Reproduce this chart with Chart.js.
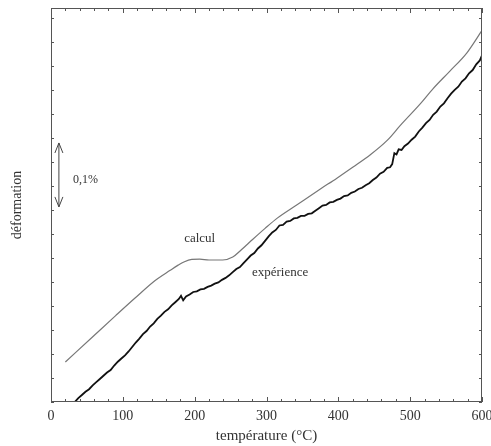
<!DOCTYPE html>
<html>
<head>
<meta charset="utf-8">
<script src="https://cdn.jsdelivr.net/npm/chart.js@4"></script>
<style>
  html, body { margin: 0; padding: 0; background: #fff; }
  #wrap { width: 491px; height: 446px; }
</style>
</head>
<body>
<div id="wrap"><canvas id="myChart" width="491" height="446"></canvas></div>
<script>
// calcul (computed curve)
const calculT = [20, 60, 90, 117, 145, 166, 177, 185, 196, 207, 220, 239, 253, 265, 281, 298, 315, 342, 375, 398, 420, 445, 468, 486, 514, 532, 555, 579, 600];
const calculDef = [0.0625, 0.104, 0.135, 0.1625, 0.190, 0.206, 0.214, 0.219, 0.223, 0.2234, 0.222, 0.222, 0.2266, 0.238, 0.2545, 0.2715, 0.2875, 0.308, 0.333, 0.350, 0.367, 0.387, 0.409, 0.432, 0.466, 0.490, 0.517, 0.546, 0.581];

// expérience (measured, noisy)
const experT = [33, 38, 43, 48, 53, 58, 63, 68, 73, 78, 83, 88, 93, 98, 103, 108, 113, 118, 123, 128,
  133, 138, 143, 148, 153, 158, 163, 168, 173, 178, 181, 184, 188, 193, 198, 203, 208, 213, 218, 223,
  228, 233, 238, 243, 248, 253, 258, 263, 268, 273, 278, 283, 288, 293, 298, 303, 308, 313, 318, 323,
  328, 333, 338, 343, 348, 353, 358, 363, 368, 373, 378, 383, 388, 393, 398, 403, 408, 413, 418, 423,
  428, 433, 438, 443, 448, 453, 458, 463, 468, 472, 475, 478, 481, 484, 488, 492, 497, 502, 507, 512,
  517, 522, 527, 532, 537, 542, 547, 552, 557, 562, 567, 572, 577, 582, 587, 592, 597, 600];
const experDef = [0.000, 0.006, 0.011, 0.016, 0.020, 0.026, 0.031, 0.036, 0.041, 0.046, 0.050, 0.057, 0.063, 0.068, 0.073, 0.079, 0.086, 0.093, 0.099, 0.106,
  0.111, 0.118, 0.123, 0.130, 0.135, 0.141, 0.145, 0.151, 0.156, 0.161, 0.166, 0.159, 0.165, 0.168, 0.172, 0.173, 0.176, 0.177, 0.180, 0.182,
  0.185, 0.187, 0.191, 0.194, 0.198, 0.203, 0.208, 0.211, 0.217, 0.223, 0.229, 0.233, 0.240, 0.245, 0.252, 0.259, 0.265, 0.269, 0.276, 0.277,
  0.282, 0.283, 0.287, 0.288, 0.291, 0.291, 0.294, 0.295, 0.299, 0.303, 0.307, 0.308, 0.312, 0.313, 0.316, 0.318, 0.322, 0.323, 0.327, 0.329,
  0.333, 0.335, 0.339, 0.342, 0.347, 0.351, 0.357, 0.360, 0.366, 0.367, 0.372, 0.389, 0.387, 0.395, 0.394, 0.400, 0.404, 0.410, 0.415, 0.423,
  0.429, 0.436, 0.441, 0.449, 0.454, 0.462, 0.467, 0.475, 0.482, 0.488, 0.493, 0.501, 0.506, 0.514, 0.519, 0.528, 0.534, 0.542];

const xTicks = [0, 100, 200, 300, 400, 500, 600];

const serif = '"Liberation Serif", "DejaVu Serif", serif';
const inkColor = '#333';

function toPoints(xs, ys) {
    return xs.map((x, i) => ({ x: x, y: ys[i] }));
}

// frame, inward ticks, annotations
const framePlugin = {
    id: 'frame',
    afterDatasetsDraw(chart) {
        const ctx = chart.ctx;
        const a = chart.chartArea;
        const xs = chart.scales.x;
        const ys = chart.scales.y;
        ctx.save();
        ctx.strokeStyle = '#555';
        ctx.lineWidth = 1;
        ctx.strokeRect(a.left + 0.5, a.top + 0.5, a.right - a.left - 1, a.bottom - a.top - 1);

        ctx.beginPath();
        for (let t = 0; t <= 600; t += 20) {
            const px = Math.round(xs.getPixelForValue(t)) + 0.5;
            const len = t % 100 === 0 ? 5 : 3;
            ctx.moveTo(px, a.bottom); ctx.lineTo(px, a.bottom - len);
            ctx.moveTo(px, a.top); ctx.lineTo(px, a.top + len);
        }
        for (let d = 0; d <= ys.max; d += 0.0375) {
            const py = Math.round(ys.getPixelForValue(d)) + 0.5;
            ctx.moveTo(a.left, py); ctx.lineTo(a.left + 3, py);
            ctx.moveTo(a.right, py); ctx.lineTo(a.right - 3, py);
        }
        ctx.stroke();

        // double arrow 0,1%
        const ax = xs.getPixelForValue(11);
        const y1 = ys.getPixelForValue(0.405);
        const y2 = ys.getPixelForValue(0.305);
        ctx.strokeStyle = '#444';
        ctx.beginPath();
        ctx.moveTo(ax, y1); ctx.lineTo(ax, y2);
        ctx.moveTo(ax - 4, y1 + 10); ctx.lineTo(ax, y1); ctx.lineTo(ax + 4, y1 + 10);
        ctx.moveTo(ax - 4, y2 - 10); ctx.lineTo(ax, y2); ctx.lineTo(ax + 4, y2 - 10);
        ctx.stroke();

        ctx.fillStyle = inkColor;
        ctx.textBaseline = 'middle';
        ctx.textAlign = 'left';
        ctx.font = '12px ' + serif;
        ctx.fillText('0,1%', xs.getPixelForValue(30.5), ys.getPixelForValue(0.347));
        ctx.textAlign = 'center';
        ctx.font = '13px ' + serif;
        ctx.fillText('calcul', xs.getPixelForValue(207), ys.getPixelForValue(0.256));
        ctx.fillText('expérience', xs.getPixelForValue(319), ys.getPixelForValue(0.203));
        ctx.restore();
    }
};

const ctx = document.getElementById('myChart');

new Chart(ctx, {
    type: 'line',
    data: {
        datasets: [{
            label: 'calcul',
            data: toPoints(calculT, calculDef),
            borderColor: '#777',
            borderWidth: 1.2,
            pointRadius: 0,
            cubicInterpolationMode: 'monotone'
        }, {
            label: 'expérience',
            data: toPoints(experT, experDef),
            borderColor: '#111',
            borderWidth: 1.8,
            pointRadius: 0,
            tension: 0
        }]
    },
    options: {
        responsive: false,
        animation: false,
        layout: { padding: { top: 8, right: 9, left: 0, bottom: 0 } },
        plugins: {
            legend: { display: false },
            tooltip: { enabled: false }
        },
        scales: {
            x: {
                type: 'linear',
                min: 0,
                max: 600,
                afterBuildTicks: (scale) => { scale.ticks = xTicks.map(v => ({ value: v })); },
                afterFit: (scale) => { scale.height = 44; scale.paddingLeft = 0; scale.paddingRight = 0; },
                grid: { display: false, drawTicks: false },
                border: { display: false },
                ticks: {
                    padding: 6,
                    maxRotation: 0,
                    color: inkColor,
                    font: { family: serif, size: 14 }
                },
                title: {
                    display: true,
                    text: 'température (°C)',
                    color: inkColor,
                    padding: { top: 0, bottom: 1 },
                    font: { family: serif, size: 15 }
                }
            },
            y: {
                type: 'linear',
                min: 0,
                max: 0.616,
                afterFit: (scale) => { scale.width = 51; },
                grid: { display: false, drawTicks: false },
                border: { display: false },
                ticks: { display: false },
                title: {
                    display: true,
                    text: 'déformation',
                    color: inkColor,
                    padding: { top: 9, bottom: 0 },
                    font: { family: serif, size: 14 }
                }
            }
        }
    },
    plugins: [framePlugin]
});
</script>
</body>
</html>
